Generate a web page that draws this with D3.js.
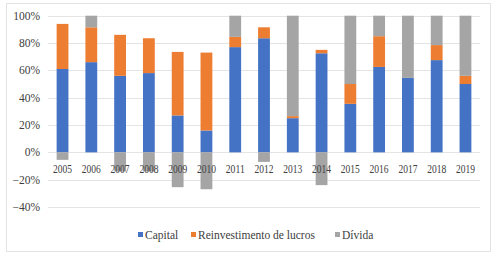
<!DOCTYPE html>
<html>
<head>
<meta charset="utf-8">
<script src="https://cdn.jsdelivr.net/npm/d3@7"></script>
<style>
  html, body { margin: 0; padding: 0; background: #fff; }
  svg text { font-family: "Liberation Serif", "DejaVu Serif", serif; fill: #404040; }
</style>
</head>
<body>
<div id="chart"></div>
<script>
/* data (% of total flow) */
var years = ['2005','2006','2007','2008','2009','2010','2011','2012','2013','2014','2015','2016','2017','2018','2019'];
var capital = [61, 66, 56, 58, 27, 16, 77, 83.5, 25, 72.5, 35.5, 62.5, 54.5, 67.5, 50];
var reinvest = [33, 25.5, 30, 25.5, 46.5, 57, 7.5, 8, 1.5, 2.5, 14.5, 22.5, 0, 11, 6];
var divida = [-5.5, 8.5, -14, -14, -25.5, -27, 15.5, -7, 73.5, -24, 50, 15, 45.5, 21.5, 44];
var yTicks = [-0.4, -0.2, 0, 0.2, 0.4, 0.6, 0.8, 1];
var seriesNames = ['Capital', 'Reinvestimento de lucros', 'Dívida'];
var colors = ['#4472c4', '#ed7d31', '#a5a5a5'];

(function drawChart() {
  var W = 494, H = 255;
  var svg = d3.select('#chart').append('svg')
    .attr('width', W).attr('height', H);

  /* frame */
  svg.append('rect')
    .attr('x', 6.5).attr('y', 3.5).attr('width', 484).attr('height', 248)
    .attr('fill', '#fff').attr('stroke', '#e3e3e3');

  var x = d3.scaleBand().domain(years).range([48, 480]).paddingInner(0.59).paddingOuter(0.3);
  var y = d3.scaleLinear().domain([-0.4, 1]).range([207, 15.7]);

  /* gridlines */
  svg.append('g').selectAll('line').data(yTicks).enter().append('line')
    .attr('x1', 48).attr('x2', 480)
    .attr('y1', function (d) { return Math.round(y(d)) + 0.5; })
    .attr('y2', function (d) { return Math.round(y(d)) + 0.5; })
    .attr('stroke', '#e4e4e4').attr('stroke-width', 1);

  /* y labels */
  var fmt = d3.format('.0%');
  svg.append('g').selectAll('text').data(yTicks).enter().append('text')
    .attr('x', 40).attr('y', function (d) { return y(d) + 4; })
    .attr('text-anchor', 'end').attr('font-size', 11.5)
    .text(fmt);

  /* stacked bars (positives stack up, negatives down) */
  var rows = years.map(function (yr, i) {
    return [capital[i] / 100, reinvest[i] / 100, divida[i] / 100];
  });
  var g = svg.append('g');
  rows.forEach(function (vals, i) {
    var pos = 0, neg = 0;
    vals.forEach(function (v, s) {
      var y0, y1;
      if (v >= 0) { y0 = pos; y1 = pos + v; pos = y1; }
      else { y0 = neg + v; y1 = neg; neg = y0; }
      g.append('rect')
        .attr('x', x(years[i]))
        .attr('width', x.bandwidth())
        .attr('y', y(y1))
        .attr('height', Math.max(0, y(y0) - y(y1)))
        .attr('fill', colors[s]);
    });
  });

  /* category labels, drawn over the bars like the source */
  svg.append('g').selectAll('text').data(years).enter().append('text')
    .attr('x', function (d) { return x(d) + x.bandwidth() / 2; })
    .attr('y', 173)
    .attr('text-anchor', 'middle').attr('font-size', 11.5)
    .attr('textLength', 19).attr('lengthAdjust', 'spacingAndGlyphs')
    .text(function (d) { return d; });

  /* legend */
  var legX = [138, 191, 335];
  seriesNames.forEach(function (name, i) {
    svg.append('rect')
      .attr('x', legX[i]).attr('y', 232).attr('width', 5).attr('height', 5)
      .attr('fill', colors[i]);
    svg.append('text')
      .attr('x', legX[i] + 7).attr('y', 239)
      .attr('font-size', 11.5)
      .text(name);
  });
}());
</script>
</body>
</html>
